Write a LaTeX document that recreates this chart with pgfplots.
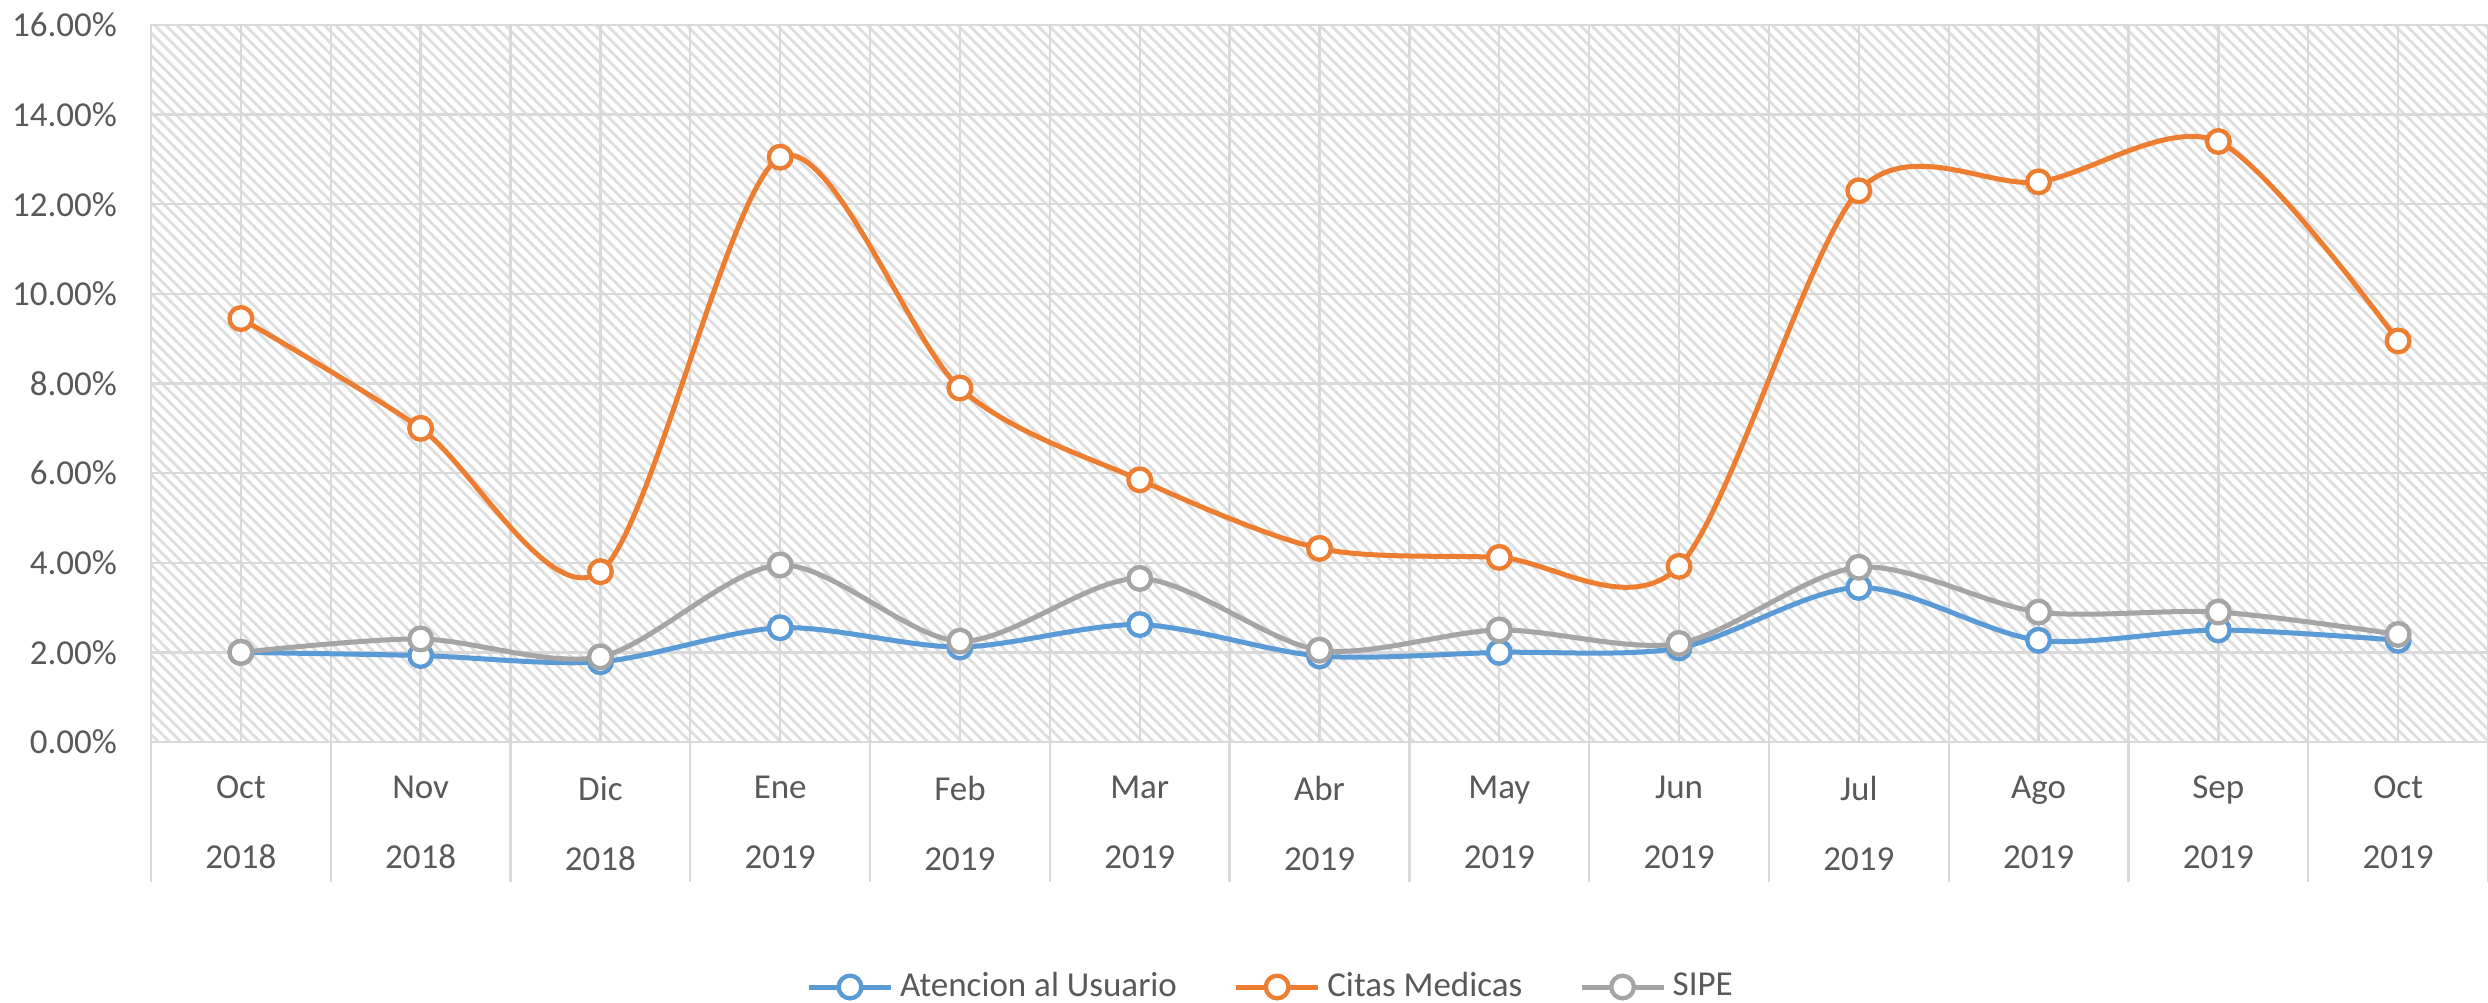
\documentclass[border=0pt]{standalone}
\usepackage{pgfplots}
\pgfplotsset{compat=1.18}
\usepackage{fontspec}
\setmainfont{Carlito}
\usetikzlibrary{patterns.meta}
\definecolor{cblue}{HTML}{5B9BD5}
\definecolor{corange}{HTML}{ED7D31}
\definecolor{cgray}{HTML}{A5A5A5}
\definecolor{ctext}{HTML}{595959}
\definecolor{cgrid}{HTML}{D9D9D9}
\definecolor{chatch}{HTML}{DEDEDE}
\pgfplotstableread{
x aten citas sipe
0  2.00 9.45 2.00
1  1.93 7.00 2.30
2  1.79 3.80 1.90
3  2.55 13.05 3.95
4  2.12 7.90 2.25
5  2.62 5.85 3.65
6  1.92 4.32 2.05
7  2.00 4.12 2.50
8  2.10 3.92 2.20
9  3.45 12.30 3.90
10 2.27 12.50 2.90
11 2.50 13.40 2.90
12 2.27 8.95 2.40
}\datatable
\begin{document}
\begin{tikzpicture}
\useasboundingbox (-45.3pt,-78pt) rectangle (701.1pt,222.6pt);
\begin{axis}[
  at={(0pt,0pt)}, anchor=south west,
  scale only axis,
  width=701.1pt, height=215.1pt,
  xmin=-0.5, xmax=12.5, ymin=0, ymax=16,
  clip=false,
  axis background/.style={fill=white, postaction={pattern={Lines[angle=-45,distance=2.4pt,line width=0.85pt]}, pattern color=chatch}},
  axis line style={draw=cgrid, line width=0.7pt},
  xtick={0,...,12},
  minor xtick={-0.5,0.5,...,12.5},
  xticklabels={Oct\\2018,Nov\\2018,Dic\\2018,Ene\\2019,Feb\\2019,Mar\\2019,Abr\\2019,May\\2019,Jun\\2019,Jul\\2019,Ago\\2019,Sep\\2019,Oct\\2019},
  ytick={0,2,...,16},
  major tick length=0pt, minor tick length=0pt,
  xmajorgrids, xminorgrids, ymajorgrids,
  grid style={draw=cgrid, line width=0.7pt},
  minor grid style={draw=cgrid, line width=0.7pt},
  /pgf/number format/assume math mode=true,
  yticklabel={\pgfmathprintnumber[fixed,fixed zerofill,precision=2]{\tick}\%},
  yticklabel style={font=\fontsize{10.5}{12}\selectfont, text=ctext, anchor=east, inner sep=0pt, xshift=-10pt},
  xticklabel style={font=\fontsize{10.5}{21}\selectfont, text=ctext, align=center, anchor=north, inner sep=0pt, yshift=-10pt},
  legend columns=3,
  legend style={at={(0.4801,-0.3417)}, anchor=center, draw=none, fill=none, font=\fontsize{10.5}{12}\selectfont, text=ctext,
    /tikz/every even column/.append style={column sep=15pt}},
  legend image code/.code={\draw[mark repeat=2,mark phase=2] plot coordinates {(0pt,0pt) (12.3pt,0pt) (24.6pt,0pt)};},
  every axis plot/.append style={line width=1.5pt, smooth, mark=*, mark size=3.4pt, mark options={fill=white, line width=1.3pt}},
]
\pgfplotsinvokeforeach{-0.5,0.5,1.5,2.5,3.5,4.5,5.5,6.5,7.5,8.5,9.5,10.5,11.5,12.5}{
  \draw[cgrid, line width=0.7pt] (axis cs:#1,0) -- ++(0pt,-42pt);
}
\addplot[color=cblue] table[x=x,y=aten] {\datatable};
\addlegendentry{Atencion al Usuario}
\addplot[color=corange] table[x=x,y=citas] {\datatable};
\addlegendentry{Citas Medicas}
\addplot[color=cgray] table[x=x,y=sipe] {\datatable};
\addlegendentry{SIPE}
\end{axis}
\end{tikzpicture}
\end{document}
